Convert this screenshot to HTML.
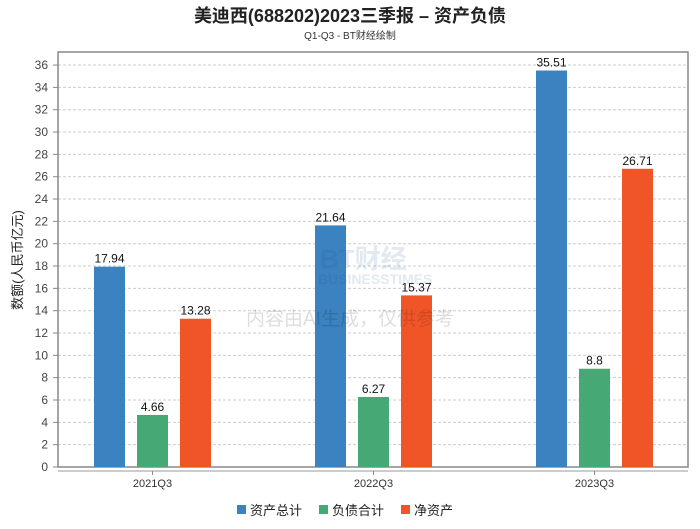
<!DOCTYPE html>
<html><head><meta charset="utf-8"><style>
body{margin:0;background:#fff;width:700px;height:524px;overflow:hidden;font-family:"Liberation Sans","Noto Sans CJK SC",sans-serif}
</style></head><body>
<svg width="700" height="524" font-family="Liberation Sans, Noto Sans CJK SC, sans-serif">
<text x="350" y="22" text-anchor="middle" font-size="18" font-weight="bold" fill="#222">美迪西(688202)2023三季报 – 资产负债</text>
<text x="350" y="39" text-anchor="middle" font-size="10" fill="#333">Q1-Q3 - BT财经绘制</text>
<g id="grid"></g>
<rect x="58" y="52" width="630" height="415" fill="none" stroke="#888" stroke-width="1.5"/>
<line x1="58" y1="471" x2="688" y2="471" stroke="#bbb" stroke-width="1.5"/>
<text transform="translate(22,260) rotate(-90)" text-anchor="middle" font-size="13" fill="#222">数额(人民币亿元)</text>
<g id="bars"></g>
<g opacity="0.12">
<text x="320" y="268" font-size="26" font-weight="bold" fill="#1a4f8a">BT财经</text>
<text x="318" y="284" font-size="14" font-weight="bold" fill="#1a4f8a">BUSINESSTIMES</text>
</g>
<text x="350" y="325" text-anchor="middle" font-size="19" fill="#000" opacity="0.13">内容由AI生成，仅供参考</text>
<g font-size="13" fill="#222">
<rect x="237" y="505" width="9" height="9" fill="#3a83c0"/>
<text x="250" y="515">资产总计</text>
<rect x="319" y="505" width="9" height="9" fill="#46a874"/>
<text x="332" y="515">负债合计</text>
<rect x="401" y="505" width="9" height="9" fill="#f05528"/>
<text x="414" y="515">净资产</text>
</g>
</svg>
<script>
const categories=["2021Q3","2022Q3","2023Q3"];
const assets=[17.94,21.64,35.51];
const liabilities=[4.66,6.27,8.8];
const equity=[13.28,15.37,26.71];
const yTicks=[0,2,4,6,8,10,12,14,16,18,20,22,24,26,28,30,32,34,36];
const NS="http://www.w3.org/2000/svg";
const y=v=>467-v*11.165;
const xc=i=>152.5+i*221;
const grid=document.getElementById('grid'),bars=document.getElementById('bars');
function mk(tag,attrs,parent){const e=document.createElementNS(NS,tag);for(const k in attrs)e.setAttribute(k,attrs[k]);parent.appendChild(e);return e;}
yTicks.forEach(t=>{
 const l=mk('line',{x1:58,x2:688,y1:y(t),y2:y(t),stroke:'#ccc','stroke-dasharray':'3,2'},grid);
 
 
 const tk=mk('line',{x1:53,x2:58,y1:y(t),y2:y(t),stroke:'#888'},grid);
 
 
 const tx=mk('text',{x:48,y:y(t)+4,'text-anchor':'end','font-size':12,fill:'#444'},grid);
 tx.textContent=t;
 
 
});
const series=[[assets,'#3a83c0','assets'],[liabilities,'#46a874','liabilities'],[equity,'#f05528','equity']];
categories.forEach((c,i)=>{
 series.forEach(([vals,col,nm],j)=>{
  const x=xc(i)+(j-1)*43-15.5;
  const r=mk('rect',{x:x,y:y(vals[i]),width:31,height:467-y(vals[i]),fill:col},bars);
  
  
  const t=mk('text',{x:x+15.5,y:y(vals[i])-4,'text-anchor':'middle','font-size':12,fill:'#111'},bars);
  t.textContent=vals[i];
  
  
 });
 const tk=mk('line',{x1:xc(i),x2:xc(i),y1:471,y2:475,stroke:'#888'},bars);
 
 
 const lb=mk('text',{x:xc(i),y:487,'text-anchor':'middle','font-size':11,fill:'#333'},bars);
 lb.textContent=c;
 
 
});
</script>
</body></html>
